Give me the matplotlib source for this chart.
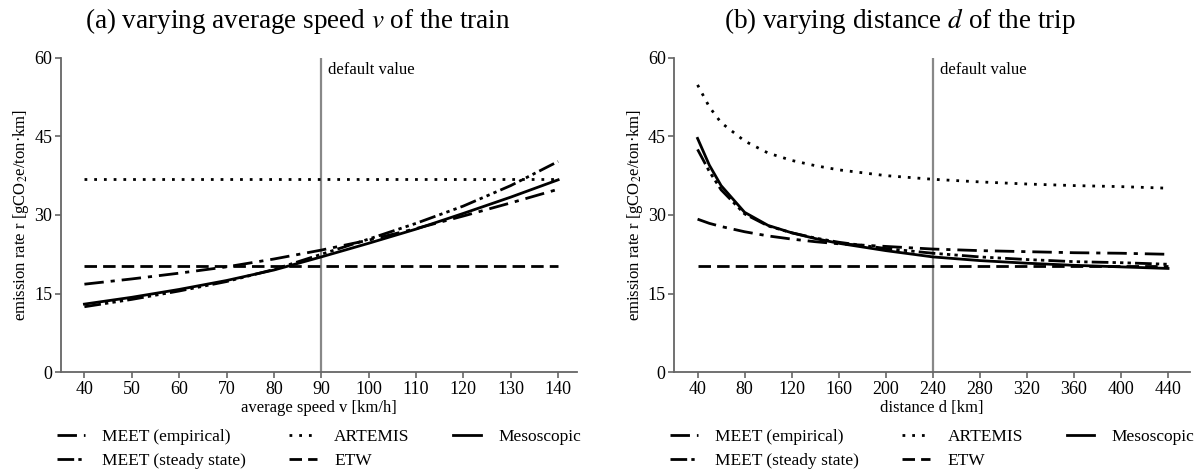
import matplotlib
matplotlib.use("Agg")
import matplotlib.pyplot as plt

plt.rcParams["font.family"] = ["Liberation Serif", "DejaVu Serif"]
plt.rcParams["mathtext.fontset"] = "stix"

# (a) average speed of the train [km/h]
speed = [40, 50, 60, 70, 80, 90, 100, 110, 120, 130, 140]
speed_meet_emp = [16.8, 17.8, 18.9, 20.1, 21.6, 23.3, 25.2, 27.4, 29.8, 32.3, 34.9]
speed_meet_ss = [12.5, 13.9, 15.5, 17.3, 19.6, 22.5, 25.4, 28.4, 31.7, 35.6, 40.2]
speed_artemis = [36.8] * 11
speed_etw = [20.2] * 11
speed_meso = [13.0, 14.3, 15.8, 17.5, 19.5, 22.0, 24.6, 27.3, 30.3, 33.4, 36.7]

# (b) distance of the trip [km]
dist = [40, 50, 60, 80, 100, 120, 140, 160, 200, 240, 280, 320, 360, 400, 440]
dist_meet_emp = [29.2, 28.4, 27.8, 26.8, 26.0, 25.4, 24.9, 24.5, 24.0, 23.5, 23.2, 23.0, 22.8, 22.7, 22.5]
dist_meet_ss = [42.5, 38.3, 34.8, 30.2, 27.9, 26.6, 25.6, 24.8, 23.6, 22.7, 22.0, 21.5, 21.1, 20.9, 20.6]
dist_artemis = [54.8, 50.6, 47.6, 44.1, 41.8, 40.4, 39.4, 38.6, 37.5, 36.8, 36.3, 35.9, 35.6, 35.4, 35.1]
dist_etw = [20.2] * 15
dist_meso = [44.6, 39.5, 35.6, 30.5, 28.0, 26.6, 25.5, 24.6, 23.2, 22.0, 21.3, 20.8, 20.4, 20.1, 19.8]

labels = ["MEET (empirical)", "MEET (steady state)", "ARTEMIS", "ETW", "Mesoscopic"]
styles = [
    (0, (7, 2.5, 1.5, 2.5)),
    (0, (6, 1.5, 1.2, 1.5, 1.2, 1.5, 1.2, 1.5)),
    (0, (1, 2.5)),
    (0, (4.5, 2.2)),
    "-",
]

spine_grey = "#666666"


def draw_panel(ax, x, series, default_x, xticks, xlabel, title, title_x):
    for ys, label, ls in zip(series, labels, styles):
        ax.plot(x, ys, color="black", linestyle=ls, linewidth=2.0, label=label)
    ax.axvline(default_x, color="#888888", linewidth=1.6, zorder=0)
    ax.annotate("default value", xy=(default_x, 60), xytext=(5, -3),
                textcoords="offset points", ha="left", va="top", fontsize=12)
    ax.set_ylim(0, 60)
    ax.set_yticks([0, 15, 30, 45, 60])
    ax.set_xticks(xticks)
    ax.set_xlabel(xlabel, fontsize=12, labelpad=2)
    ax.set_ylabel("emission rate r [gCO$_2$e/ton·km]", fontsize=12, labelpad=2)
    # title is centred over the whole half of the figure, not the axes
    fig.text(title_x, 0.956, title, fontsize=19.5, ha="center", va="center")
    for side in ["top", "right"]:
        ax.spines[side].set_visible(False)
    for side in ["left", "bottom"]:
        ax.spines[side].set_color(spine_grey)
        ax.spines[side].set_linewidth(1.3)
    ax.tick_params(direction="out", length=4, width=1.2, color=spine_grey,
                   labelsize=13, pad=2)
    ax.legend(loc="upper center", bbox_to_anchor=(0.5, -0.13), ncol=3,
              frameon=False, fontsize=12.5, handlelength=1.6,
              handletextpad=1.0, columnspacing=2.5, labelspacing=0.45)


fig = plt.figure(figsize=(12, 4.73), dpi=100)
ax1 = fig.add_axes([0.0506, 0.2129, 0.4303, 0.6653])
ax2 = fig.add_axes([0.5617, 0.2129, 0.4303, 0.6653])

draw_panel(ax1, speed,
           [speed_meet_emp, speed_meet_ss, speed_artemis, speed_etw, speed_meso],
           90, list(range(40, 141, 10)), "average speed v [km/h]",
           "(a) varying average speed $v$ of the train", 0.248)
ax1.set_xlim(35, 144)

draw_panel(ax2, dist,
           [dist_meet_emp, dist_meet_ss, dist_artemis, dist_etw, dist_meso],
           240, list(range(40, 441, 40)), "distance d [km]",
           "(b) varying distance $d$ of the trip", 0.75)
ax2.set_xlim(20, 459)

fig.savefig("out.png", dpi=100)
